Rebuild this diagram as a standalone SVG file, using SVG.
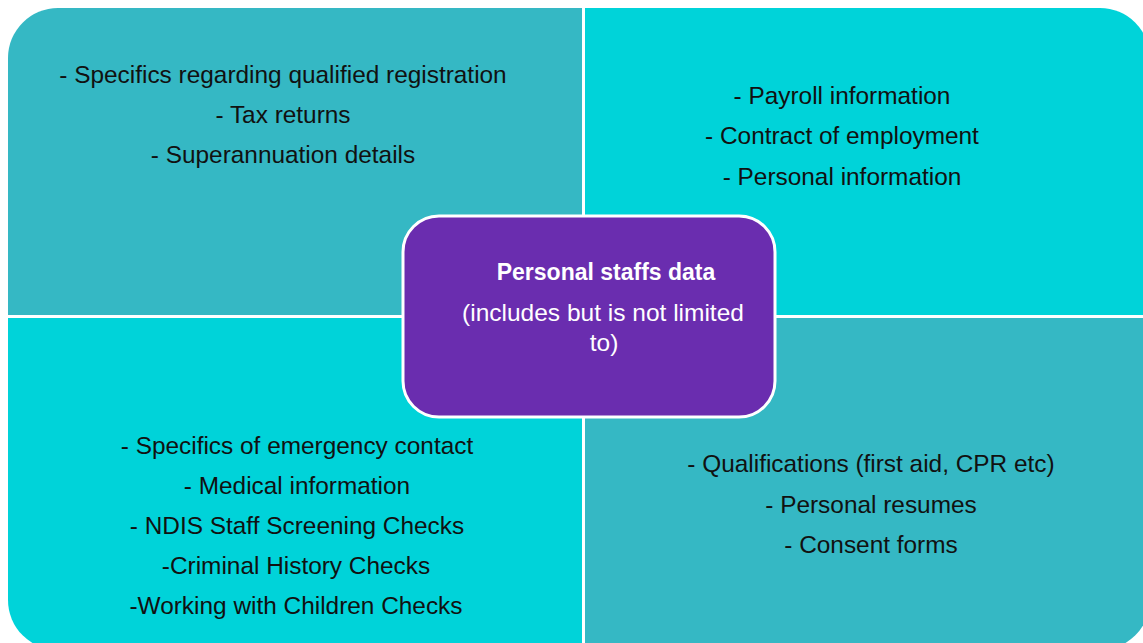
<svg xmlns="http://www.w3.org/2000/svg" width="1143" height="643" viewBox="0 0 1143 643">
  <style>
    .q-dark { fill: #35b8c4; }
    .q-light { fill: #00d3d9; }
    .item { font-family: "Liberation Sans", Arial, sans-serif; font-size: 24.4px; fill: #111; text-anchor: middle; }
    .hub { fill: #6a2daf; stroke: #ffffff; stroke-width: 3; }
    .hub-text { font-family: "Liberation Sans", Arial, sans-serif; font-size: 24.5px; fill: #ffffff; text-anchor: middle; }
    .hub-title { font-weight: bold; font-size: 23px; }
  </style>
  <rect width="1143" height="643" fill="#ffffff"/>

  <!-- top-left quadrant -->
  <g id="q-top-left">
    <path class="q-dark" d="M8 315 V58 A50 50 0 0 1 58 8 H582 V315 Z"/>
    <text class="item" x="283" y="83">- Specifics regarding qualified registration</text>
    <text class="item" x="283" y="123">- Tax returns</text>
    <text class="item" x="283" y="163">- Superannuation details</text>
  </g>

  <!-- top-right quadrant -->
  <g id="q-top-right">
    <path class="q-light" d="M585 8 H1100 A50 50 0 0 1 1150 58 V315 H585 Z"/>
    <text class="item" x="842" y="104">- Payroll information</text>
    <text class="item" x="842" y="144">- Contract of employment</text>
    <text class="item" x="842" y="185">- Personal information</text>
  </g>

  <!-- bottom-left quadrant -->
  <g id="q-bottom-left">
    <path class="q-light" d="M8 318 H582 V650 H58 A50 50 0 0 1 8 600 Z"/>
    <text class="item" x="297" y="454">- Specifics of emergency contact</text>
    <text class="item" x="297" y="494">- Medical information</text>
    <text class="item" x="297" y="534">- NDIS Staff Screening Checks</text>
    <text class="item" x="296" y="574">-Criminal History Checks</text>
    <text class="item" x="296" y="614">-Working with Children Checks</text>
  </g>

  <!-- bottom-right quadrant -->
  <g id="q-bottom-right">
    <path class="q-dark" d="M585 318 H1150 V600 A50 50 0 0 1 1100 650 H585 Z"/>
    <text class="item" x="871" y="472">- Qualifications (first aid, CPR etc)</text>
    <text class="item" x="871" y="513">- Personal resumes</text>
    <text class="item" x="871" y="553">- Consent forms</text>
  </g>

  <!-- central hub -->
  <g id="hub">
    <rect class="hub" x="403" y="216" width="372" height="201" rx="36" ry="36"/>
    <text class="hub-text hub-title" x="606" y="280">Personal staffs data</text>
    <text class="hub-text" x="603" y="321">(includes but is not limited</text>
    <text class="hub-text" x="604" y="351">to)</text>
  </g>
</svg>
